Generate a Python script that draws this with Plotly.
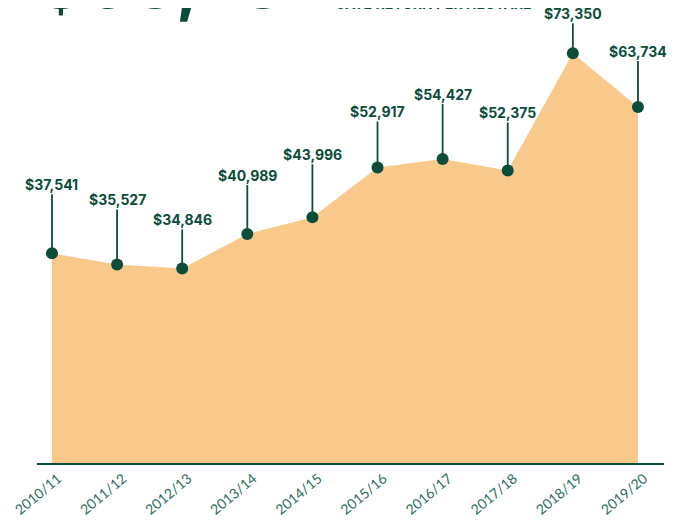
import plotly.graph_objects as go

# gate return per hectare by season
seasons = ['2010/11', '2011/12', '2012/13', '2013/14', '2014/15',
           '2015/16', '2016/17', '2017/18', '2018/19', '2019/20']
returns = [37541, 35527, 34846, 40989, 43996, 52917, 54427, 52375, 73350, 63734]
# vertical offset (px) of each value label above its point
label_offsets = [-69, -65, -49, -59, -63, -56, -65, -58, -40, -56]

GREEN = '#0b4d3a'
FILL = '#f9c98c'
TICK = '#2f6d5d'

fig = go.Figure()
fig.add_trace(go.Scatter(
    x=list(range(len(seasons))), y=returns,
    mode='lines', line=dict(width=0, color=FILL),
    fill='tozeroy', fillcolor=FILL, hoverinfo='skip'
))
fig.add_trace(go.Scatter(
    x=list(range(len(seasons))), y=returns,
    mode='markers', marker=dict(size=12, color=GREEN),
    hoverinfo='skip'
))

for i, (v, off) in enumerate(zip(returns, label_offsets)):
    fig.add_annotation(
        x=i, y=v, text='<b>${:,}</b>'.format(v),
        showarrow=True, arrowhead=0, arrowwidth=1.8, arrowcolor=GREEN,
        ax=0, ay=off, standoff=0,
        font=dict(family='Inter, Open Sans, sans-serif', size=14, color=GREEN)
    )

# headline, clipped by the top of the frame as in the source
fig.add_annotation(
    xref='paper', yref='paper', x=-0.003, y=0.958, xanchor='left', yanchor='bottom',
    text='<b>$63,734</b>', showarrow=False,
    font=dict(family='Inter, Open Sans, sans-serif', size=72, color=GREEN)
)
fig.add_annotation(
    xref='paper', yref='paper', x=0.472, y=0.986, xanchor='left', yanchor='bottom',
    text='<b>GATE RETURN PER HECTARE</b>', showarrow=False,
    font=dict(family='Inter, Open Sans, sans-serif', size=14, color=GREEN)
)

# page body adds an 8px offset, so the figure is sized/placed to compensate
fig.update_layout(
    width=670, height=512,
    margin=dict(l=29, r=14, t=0, b=57),
    plot_bgcolor='white', paper_bgcolor='white',
    showlegend=False,
    xaxis=dict(
        range=[-0.23, 9.4], automargin=False,
        tickmode='array', tickvals=list(range(len(seasons))), ticktext=seasons,
        tickangle=-40, ticklabelshift=6,
        tickfont=dict(family='Lato, sans-serif', size=14, color=TICK),
        showgrid=False, zeroline=False, ticks='', ticklen=0,
        showline=True, linecolor=GREEN, linewidth=2,
    ),
    yaxis=dict(range=[0, 81470], visible=False, showgrid=False, zeroline=False,
               automargin=False),
)

fig.write_html('out.html')
